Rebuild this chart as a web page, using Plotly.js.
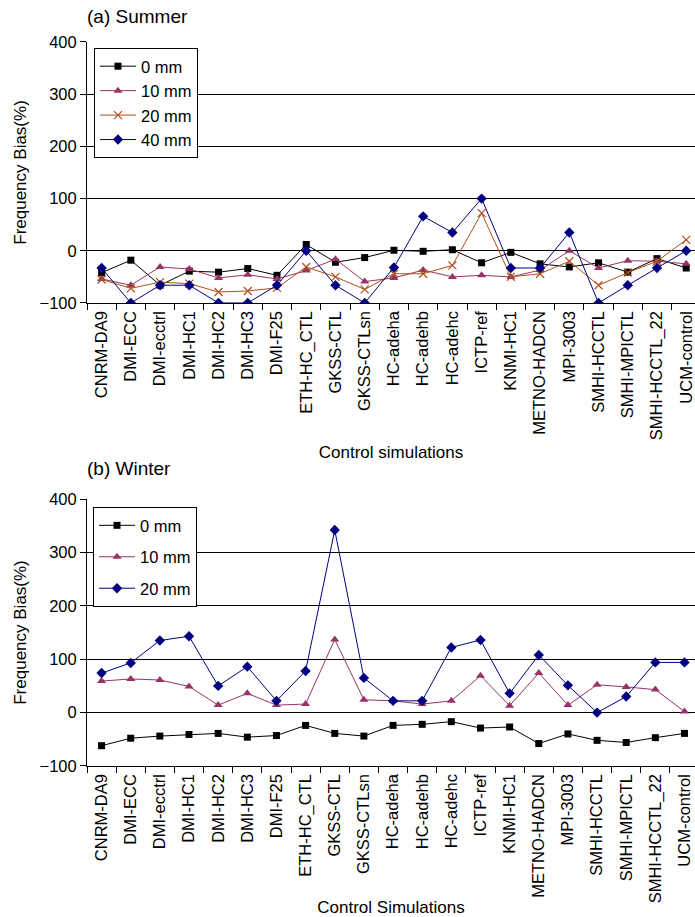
<!DOCTYPE html>
<html>
<head>
<meta charset="utf-8">
<script src="https://cdn.plot.ly/plotly-3.0.1.min.js"></script>
<style>html,body{margin:0;padding:0;background:#fff;}#chart{width:695px;height:917px;}</style>
</head>
<body>
<div id="chart"></div>
<script>
const categories = ["CNRM-DA9","DMI-ECC","DMI-ecctrl","DMI-HC1","DMI-HC2","DMI-HC3","DMI-F25","ETH-HC_CTL","GKSS-CTL","GKSS-CTLsn","HC-adeha","HC-adehb","HC-adehc","ICTP-ref","KNMI-HC1","METNO-HADCN","MPI-3003","SMHI-HCCTL","SMHI-MPICTL","SMHI-HCCTL_22","UCM-control"];

// (a) Summer
const summer0  = [-42,-18,-66,-39,-41,-34,-47, 12,-22,-13,  1, -1,  2,-23, -3,-25,-31,-23,-41,-15,-33];
const summer10 = [-54,-66,-31,-35,-52,-46,-54,-38,-16,-59,-52,-37,-50,-47,-50,-37,  0,-33,-19,-20,-25];
const summer20 = [-55,-72,-60,-63,-79,-77,-71,-31,-50,-74,-44,-44,-28, 72,-50,-44,-20,-66,-42,-20, 21];
const summer40 = [-33,-100,-66,-66,-100,-100,-66, 0,-66,-100,-32, 66, 35,100,-33,-33, 35,-100,-66,-33,  0];

// (b) Winter
const winter0  = [-62,-48,-44,-41,-39,-46,-43,-24,-39,-44,-24,-22,-17,-29,-27,-58,-40,-52,-56,-47,-39];
const winter10 = [ 59, 63, 61, 49, 14, 36, 14, 16,137, 24, 22, 16, 22, 69, 13, 74, 14, 52, 48, 43,  2];
const winter20 = [ 74, 93,135,143, 50, 86, 22, 78,342, 65, 22, 22,122,136, 36,108, 51,  0, 30, 94, 94];

const yTicks = [-100, 0, 100, 200, 300, 400];

const C0 = "#000000", C10 = "#993366", C20 = "#B0501C", C40 = "#000080";

function tr(y, name, color, symbol, msize, xa, ya, legend, group) {
  return {
    x: categories, y: y, name: name, type: "scatter", mode: "lines+markers",
    xaxis: xa, yaxis: ya, legend: legend, legendgroup: group,
    line: {color: color, width: 1},
    marker: {color: color, symbol: symbol, size: msize, line: {color: color, width: symbol === "x-thin-open" ? 1.2 : 0}}
  };
}

const data = [
  tr(summer0,  "0 mm",  C0,  "square", 7, "x", "y", "legend", "a0"),
  tr(summer10, "10 mm", C10, "triangle-up", 8, "x", "y", "legend", "a0"),
  tr(summer20, "20 mm", C20, "x-thin-open", 8, "x", "y", "legend", "a0"),
  tr(summer40, "40 mm", C40, "diamond", 8, "x", "y", "legend", "a0"),
  tr(winter0,  "0 mm",  C0,  "square", 7, "x2", "y2", "legend2", "b0"),
  tr(winter10, "10 mm", C10, "triangle-up", 8, "x2", "y2", "legend2", "b1"),
  tr(winter20, "20 mm", C40, "diamond", 8, "x2", "y2", "legend2", "b2")
];

const FAM = "Liberation Sans, Arial, sans-serif";
const font = {family: FAM, color: "#000"};

function xax(range, title, anchor) {
  return {
    type: "category", range: range, anchor: anchor, domain: [0, 1],
    tickson: "boundaries", ticks: "outside", ticklen: 6, tickcolor: "#000",
    tickangle: -90, tickfont: {size: 16.5, family: FAM, color: "#000"},
    showline: true, linecolor: "#000", linewidth: 1.5, showgrid: false, zeroline: false,
    title: {text: title, font: {size: 17, family: FAM, color: "#000"}, standoff: 6},
    automargin: false, fixedrange: true
  };
}
function yax(domain, anchor) {
  return {
    range: [-100, 400], domain: domain, anchor: anchor, tickvals: yTicks,
    ticks: "outside", ticklen: 6, tickcolor: "#000",
    tickfont: {size: 16.5, family: FAM, color: "#000"},
    showline: true, linecolor: "#000", linewidth: 1,
    showgrid: true, gridcolor: "#000", gridwidth: 1, zeroline: false,
    title: {text: "Frequency Bias(%)", font: {size: 17, family: FAM, color: "#000"}, standoff: 8},
    automargin: false, fixedrange: true
  };
}

const layout = {
  width: 695, height: 917,
  margin: {l: 87, r: 0, t: 0, b: 0},
  paper_bgcolor: "#fff", plot_bgcolor: "#fff",
  font: font,
  showlegend: true,
  xaxis: xax([-0.5, 20.3], "Control simulations", "y"),
  yaxis: yax([0.6696, 0.9542], "x"),
  xaxis2: xax([-0.5, 20.36], "Control Simulations", "y2"),
  yaxis2: yax([0.1647, 0.4558], "x2"),
  legend: {
    x: 0.0115, y: 0.9477, xanchor: "left", yanchor: "top",
    bgcolor: "#fff", bordercolor: "#000", borderwidth: 1,
    font: {size: 16.5, family: FAM, color: "#000"},
    itemwidth: 36, tracegroupgap: 0
  },
  legend2: {
    x: 0.0099, y: 0.447, xanchor: "left", yanchor: "top",
    bgcolor: "#fff", bordercolor: "#000", borderwidth: 1,
    font: {size: 16.5, family: FAM, color: "#000"},
    itemwidth: 36, tracegroupgap: 7
  },
  annotations: [
    {text: "(a) Summer", xref: "paper", yref: "paper", x: (85-87)/608, y: 1 - 4/917, xanchor: "left", yanchor: "top", showarrow: false, font: {size: 19, family: FAM, color: "#000"}},
    {text: "(b) Winter", xref: "paper", yref: "paper", x: (85-87)/608, y: 1 - 456/917, xanchor: "left", yanchor: "top", showarrow: false, font: {size: 19, family: FAM, color: "#000"}}
  ]
};

Plotly.newPlot("chart", data, layout, {staticPlot: true, displayModeBar: false});
</script>
</body>
</html>
